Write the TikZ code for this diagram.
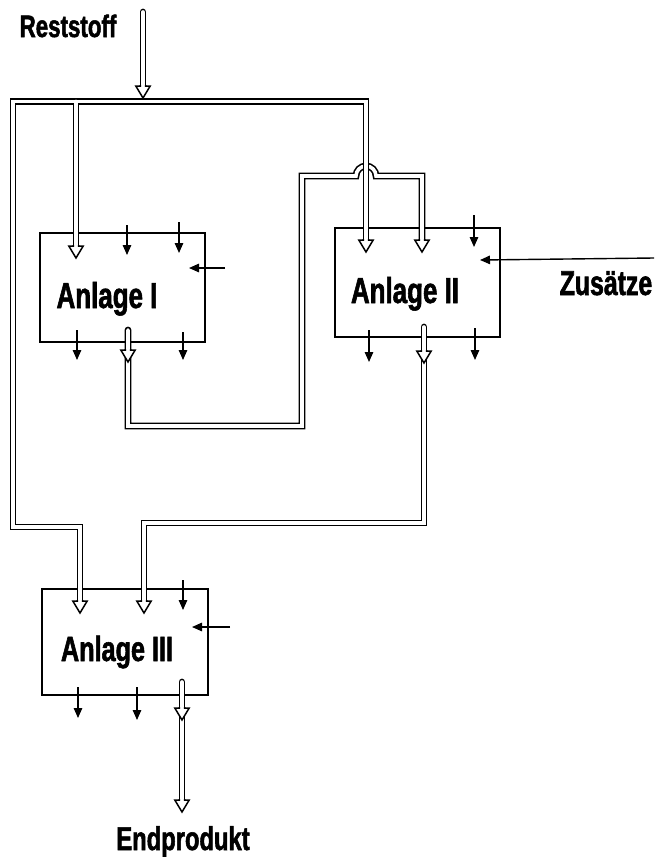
\documentclass[tikz,border=0pt]{standalone}
\usepackage{fontspec}
\newfontfamily\labfont{Liberation Sans}[FakeStretch=0.72,FakeBold=1.6]
\usetikzlibrary{arrows.meta}
\tikzset{
  plantbox/.style={draw=black, line width=1.5pt, inner sep=0pt, outer sep=0pt},
  lab/.style={font=\labfont\bfseries\fontsize{#1}{#1}\selectfont, inner sep=0pt, anchor=base},
  feed/.style={line width=1.4pt, -{Triangle[width=8.5pt,length=10pt]}},
  pipeblack/.style={line width=6.8pt, black, line join=miter, line cap=round},
  pipewhite/.style={line width=3.6pt, white, line join=miter, line cap=round},
  hhead/.pic={
    \fill[white] (-2.6,-13) -- (-2.6,-12) -- (-7.2,-12) -- (0,0) -- (7.2,-12) -- (2.6,-12) -- (2.6,-13) -- cycle;
    \draw[line width=1.5pt, line join=miter, miter limit=10] (-2.6,-13) -- (-2.6,-12) -- (-7.2,-12) -- (0,0) -- (7.2,-12) -- (2.6,-12) -- (2.6,-13);
  }
}
\begin{document}
\begin{tikzpicture}[x=1pt, y=-1pt]
\useasboundingbox (0,0) rectangle (654,857);

% plants
\node[plantbox, minimum width=165pt, minimum height=109pt] (A1) at (122.5,287.5) {};
\node[plantbox, minimum width=165pt, minimum height=109pt] (A2) at (417.5,282.5) {};
\node[plantbox, minimum width=166pt, minimum height=106pt] (A3) at (125,642) {};

% labels
\node[lab=31] (rest) at (68,37) {Reststoff};
\node[lab=36] (l1) at (107,308) {Anlage I};
\node[lab=36] (l2) at (405,303) {Anlage II};
\node[lab=35] (l3) at (117,661) {Anlage III};
\node[lab=34.5] (zus) at (606,295) {Zusätze};
\node[lab=33] (endp) at (183,850) {Endprodukt};

% pipe coordinates
\coordinate (rs0) at (143,12);   \coordinate (rsb) at (143,86);   \coordinate (rst) at (143,98);
\coordinate (tl) at (13,101.5);  \coordinate (tr) at (366,101.5); \coordinate (tj) at (76,101.5);
\coordinate (lc1) at (13,527);   \coordinate (lc2) at (80,527);
\coordinate (h1in) at (76,258);  \coordinate (h1inb) at (76,246);
\coordinate (h2a) at (366,252);  \coordinate (h2ab) at (366,240);
\coordinate (h2b) at (422,252);  \coordinate (h2bb) at (422,240);
\coordinate (h3a) at (80,613);   \coordinate (h3ab) at (80,601);
\coordinate (h3b) at (144,613);  \coordinate (h3bb) at (144,601);
\coordinate (o1s) at (128,330);  \coordinate (o1h) at (128,362);
\coordinate (o1c1) at (128,426); \coordinate (o1c2) at (302,426);
\coordinate (o1c3) at (302,176); \coordinate (hmpL) at (356,176);
\coordinate (hmpT) at (366,166); \coordinate (hmpR) at (376,176);
\coordinate (o1c4) at (422,176);
\coordinate (o2s) at (424,327);  \coordinate (o2h) at (424,363);
\coordinate (o2c1) at (424,523); \coordinate (o2c2) at (144,523);
\coordinate (o3s) at (182,682);  \coordinate (o3h) at (182,720);
\coordinate (o3e) at (182,800);  \coordinate (o3t) at (182,812);

% network 2 (Anlage I -> Anlage II), with the hump
\foreach \sty in {pipeblack,pipewhite}{
  \draw[\sty] (o1s) -- (o1c1) -- (o1c2) -- (o1c3) -- (hmpL)
    .. controls (356,170.5) and (360.5,166) .. (hmpT)
    .. controls (371.5,166) and (376,170.5) .. (hmpR) -- (o1c4) -- (h2bb);
}
% network 1 (Reststoff distribution)
\foreach \sty in {pipeblack,pipewhite}{
  \draw[\sty] (h3ab) -- (lc2) -- (lc1) -- (tl) -- (tr) -- (h2ab);
  \draw[\sty] (tj) -- (h1inb);
}
% network 3 (Anlage II -> Anlage III)
\foreach \sty in {pipeblack,pipewhite}{
  \draw[\sty] (o2s) -- (o2c1) -- (o2c2) -- (h3bb);
}
% network 4 (Anlage III -> Endprodukt) and Reststoff feed
\foreach \sty in {pipeblack,pipewhite}{
  \draw[\sty] (o3s) -- (o3e);
  \draw[\sty] (rs0) -- (rsb);
}

% hollow heads
\pic at (rst) {hhead};
\pic at (h1in) {hhead};
\pic at (h2a) {hhead};
\pic at (h2b) {hhead};
\pic at (h3a) {hhead};
\pic at (h3b) {hhead};
\pic at (o1h) {hhead};
\pic at (o2h) {hhead};
\pic at (o3h) {hhead};
\pic at (o3t) {hhead};

% single feeds, Anlage I
\coordinate (s11a) at (127,225); \coordinate (s11b) at (127,255);
\coordinate (s12a) at (179,222); \coordinate (s12b) at (179,253);
\coordinate (s13a) at (225,268); \coordinate (s13b) at (189,268);
\coordinate (s14a) at (77,330);  \coordinate (s14b) at (77,360);
\coordinate (s15a) at (183,332); \coordinate (s15b) at (183,360);
\draw[feed] (s11a) -- (s11b);
\draw[feed] (s12a) -- (s12b);
\draw[feed] (s13a) -- (s13b);
\draw[feed] (s14a) -- (s14b);
\draw[feed] (s15a) -- (s15b);
% Anlage II
\coordinate (s21a) at (654,258); \coordinate (s21b) at (480,260);
\coordinate (s20a) at (474,215); \coordinate (s20b) at (474,247);
\coordinate (s23a) at (369,330); \coordinate (s23b) at (369,362);
\coordinate (s24a) at (475,328); \coordinate (s24b) at (475,360);
\draw[feed] (s20a) -- (s20b);
\draw[feed] (s21a) -- (s21b);
\draw[feed] (s23a) -- (s23b);
\draw[feed] (s24a) -- (s24b);
% Anlage III
\coordinate (s31a) at (183,580); \coordinate (s31b) at (183,610);
\coordinate (s32a) at (230,627); \coordinate (s32b) at (192,627);
\coordinate (s33a) at (78,687);  \coordinate (s33b) at (78,718);
\coordinate (s34a) at (137,687); \coordinate (s34b) at (137,720);
\draw[feed] (s31a) -- (s31b);
\draw[feed] (s32a) -- (s32b);
\draw[feed] (s33a) -- (s33b);
\draw[feed] (s34a) -- (s34b);
\end{tikzpicture}
\end{document}
